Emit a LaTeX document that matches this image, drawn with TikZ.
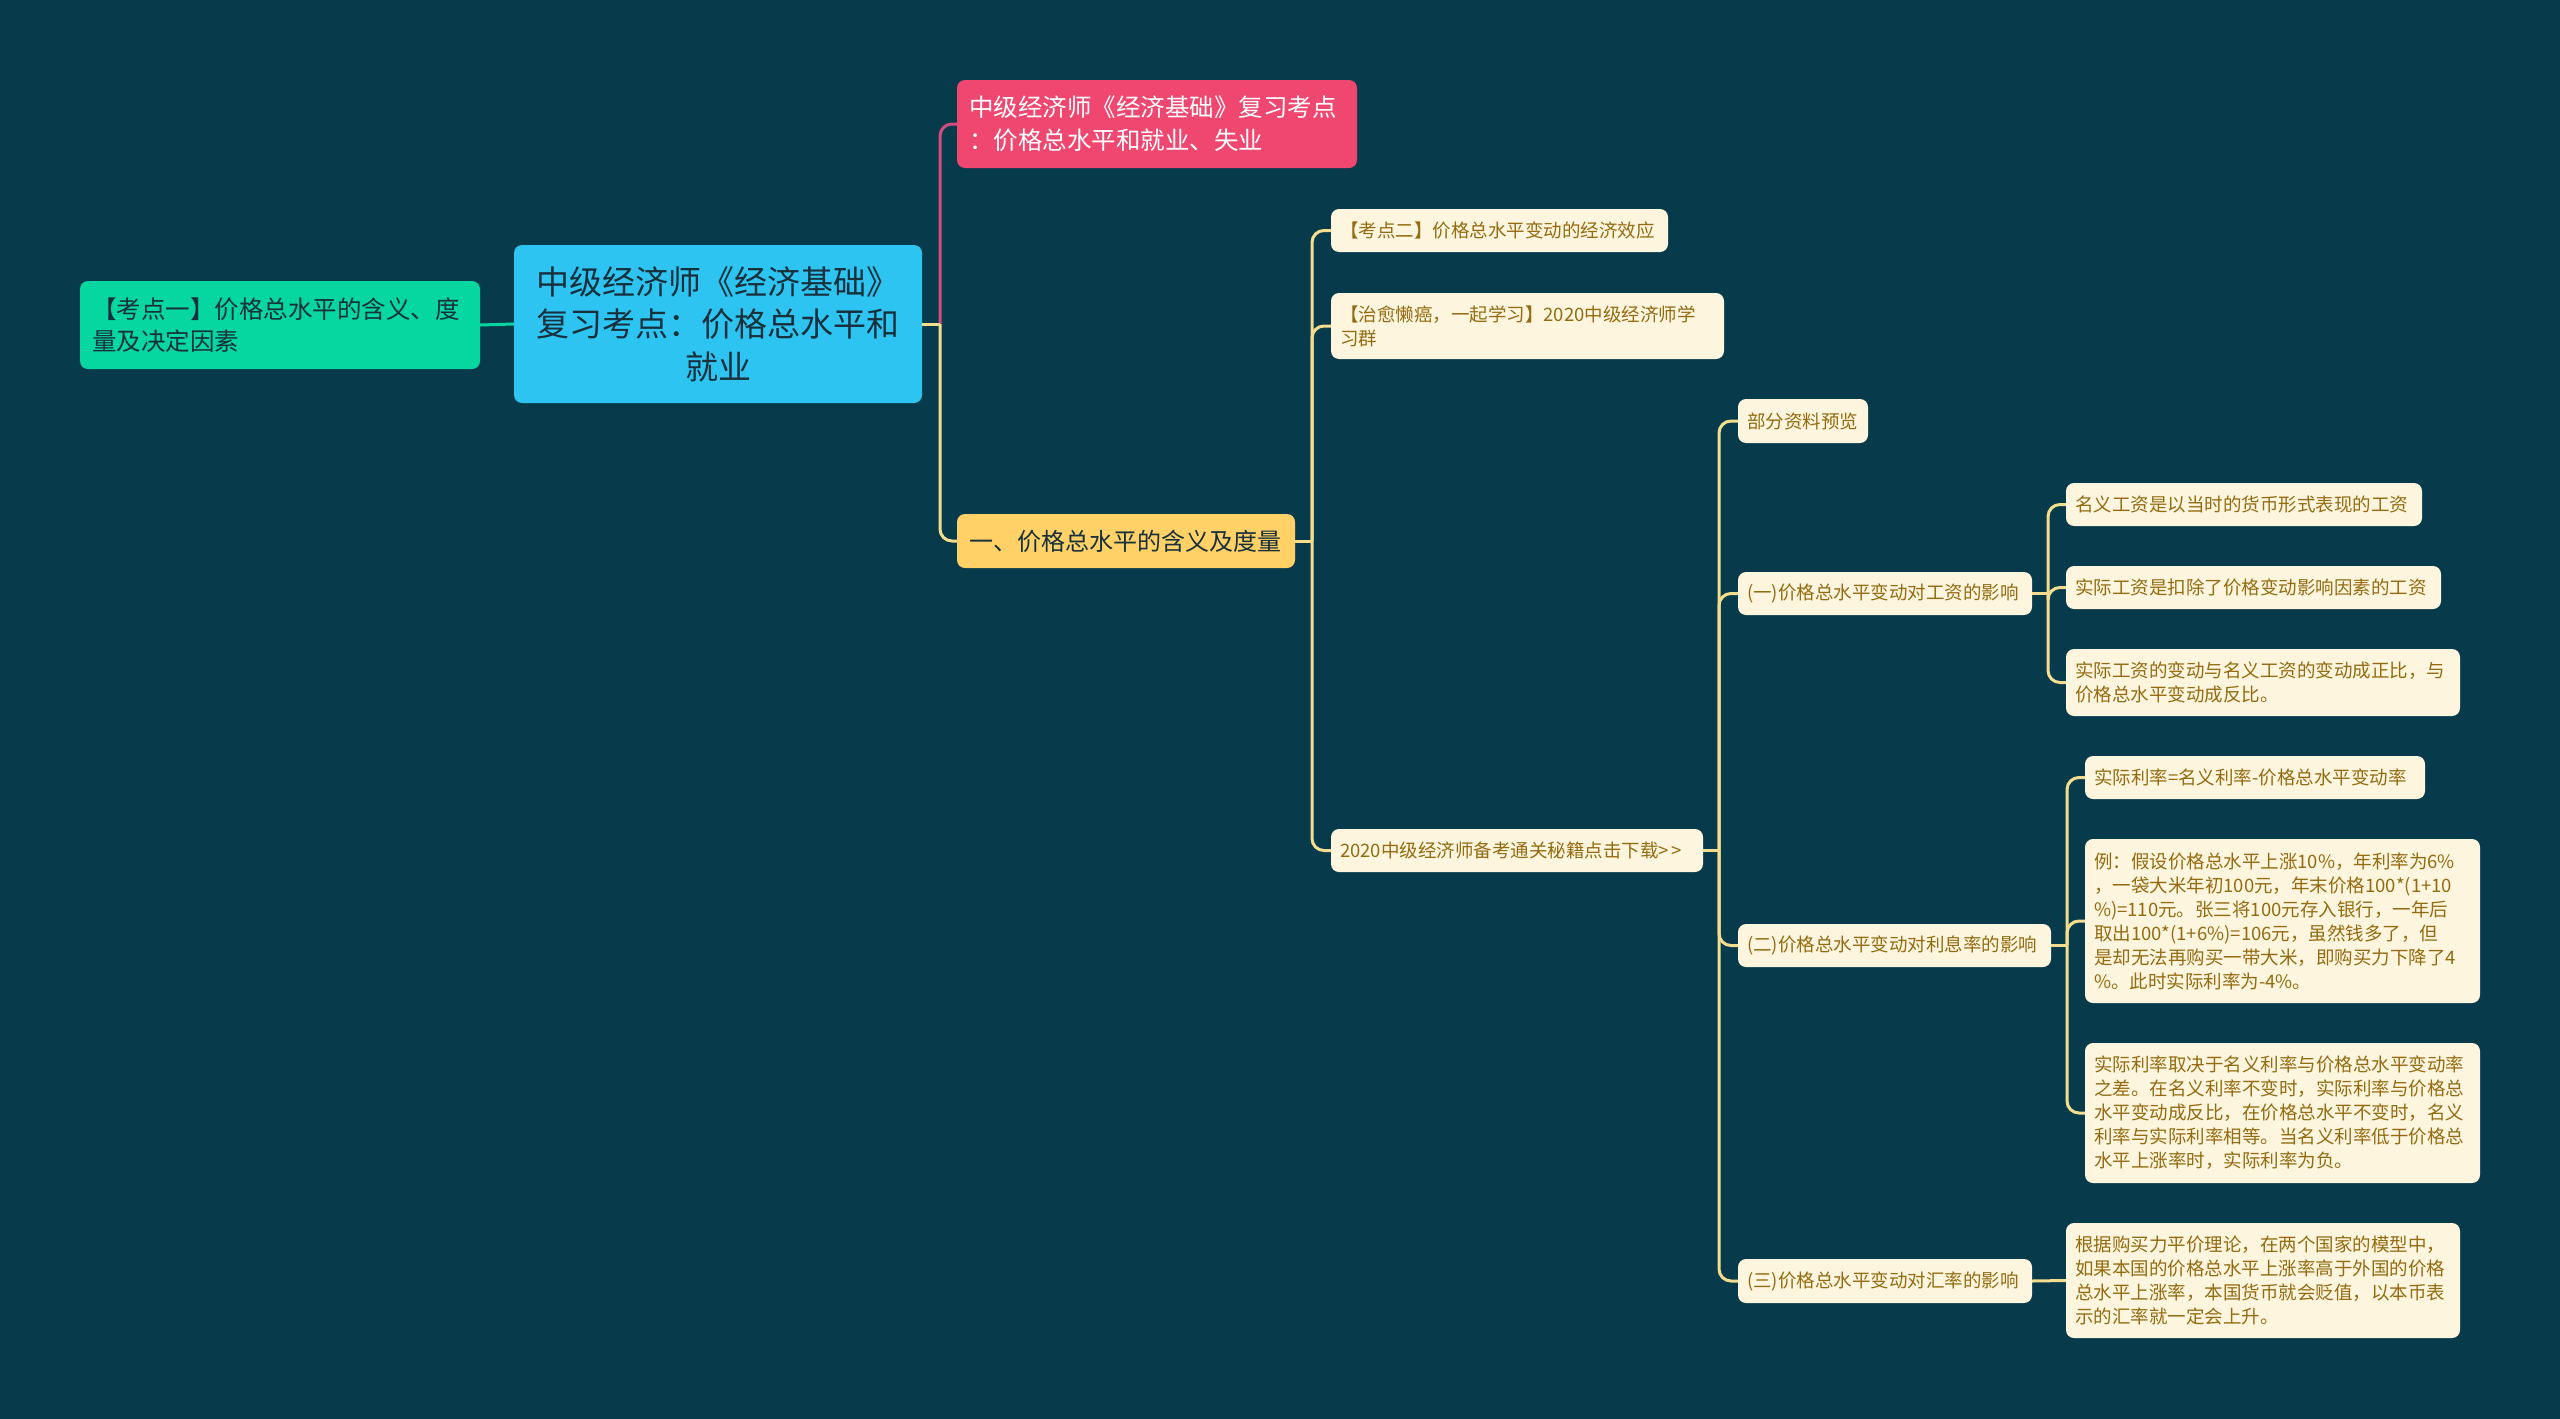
\documentclass[tikz,border=0pt]{standalone}
\usepackage{fontspec}
\setmainfont{Noto Sans CJK SC}
\definecolor{bgc}{HTML}{073A4B}
\definecolor{pinkc}{HTML}{EF476F}
\definecolor{bluec}{HTML}{2EC4F2}
\definecolor{greenc}{HTML}{06D6A0}
\definecolor{yellowc}{HTML}{FFD166}
\definecolor{creamc}{HTML}{FDF5DE}
\definecolor{browntxt}{HTML}{946B10}
\definecolor{darktxt}{HTML}{17303C}
\definecolor{pinkline}{HTML}{D24C80}
\definecolor{yline}{HTML}{F4DE8E}
\tikzset{
  box/.style={rounded corners=8pt, inner ysep=0pt, anchor=center, align=left},
  leafbox/.style={box, fill=creamc, text=browntxt, inner xsep=9pt,
     font={\fontsize{18.5}{24}\selectfont}},
  conn/.style={line width=3pt, yline, rounded corners=12pt},
}
\newcommand{\leaf}[6]{% name, cx, cy, w, h, text
  \node[leafbox, text width=#4pt-18pt, minimum height=#5pt] (#1) at (#2,#3) {#6};}
\begin{document}
\begin{tikzpicture}[x=1pt,y=-1pt]
\fill[bgc] (0,0) rectangle (2560,1419);
\useasboundingbox (0,0) rectangle (2560,1419);

% main nodes
\node[box, fill=bluec, text=darktxt, align=center, inner xsep=10pt, text width=388pt,
  minimum height=158pt, font={\fontsize{33}{42.5}\selectfont}] (root) at (718,324)
  {中级经济师《经济基础》\\复习考点：价格总水平和\\就业};
\node[box, fill=greenc, text=darktxt, inner xsep=12pt, text width=376pt,
  minimum height=88pt, font={\fontsize{24.5}{32.7}\selectfont}] (green) at (280,325)
  {【考点一】价格总水平的含义、度\\量及决定因素};
\node[box, fill=pinkc, text=white, inner xsep=12pt, text width=376pt,
  minimum height=88pt, font={\fontsize{24.5}{32.7}\selectfont}] (pink) at (1157,124)
  {中级经济师《经济基础》复习考点\\：价格总水平和就业、失业};
\node[box, fill=yellowc, text=darktxt, inner xsep=12pt, text width=314pt,
  minimum height=54pt, font={\fontsize{24}{30}\selectfont}] (yel) at (1126,541)
  {一、价格总水平的含义及度量};

% level 2
\leaf{kd}{1499.5}{230.5}{337}{43}{【考点二】价格总水平变动的经济效应}
\leaf{zy}{1527.5}{326}{393}{66}{【治愈懒癌，一起学习】2020中级经济师学\\习群}
\leaf{dl}{1517}{850.5}{372}{43}{2020中级经济师备考通关秘籍点击下载>\hspace{3pt}>}

% level 3
\leaf{bf}{1803}{421}{130}{44}{部分资料预览}
\leaf{ya}{1885}{593.5}{294}{43}{(一)价格总水平变动对工资的影响}
\leaf{yb}{1894.5}{945.5}{313}{43}{(二)价格总水平变动对利息率的影响}
\leaf{yc}{1885}{1281}{294}{44}{(三)价格总水平变动对汇率的影响}

% level 4
\leaf{wa}{2244}{504.5}{356}{43}{名义工资是以当时的货币形式表现的工资}
\leaf{wb}{2253.5}{587.5}{375}{43}{实际工资是扣除了价格变动影响因素的工资}
\leaf{wc}{2263}{682.5}{394}{67}{实际工资的变动与名义工资的变动成正比，与\\价格总水平变动成反比。}
\leaf{ra}{2255}{777.5}{340}{43}{实际利率=名义利率-价格总水平变动率}
\leaf{rb}{2282.5}{921}{395}{164}{例：假设价格总水平上涨10\%，年利率为6\%\\，一袋大米年初100元，年末价格100*(1+10\\\%)=110元。张三将100元存入银行，一年后\\取出100*(1+6\%)=106元，虽然钱多了，但\\是却无法再购买一带大米，即购买力下降了4\\\%。此时实际利率为-4\%。}
\leaf{rc}{2282.5}{1113}{395}{140}{实际利率取决于名义利率与价格总水平变动率\\之差。在名义利率不变时，实际利率与价格总\\水平变动成反比，在价格总水平不变时，名义\\利率与实际利率相等。当名义利率低于价格总\\水平上涨率时，实际利率为负。}
\leaf{ha}{2263}{1280.5}{394}{115}{根据购买力平价理论，在两个国家的模型中，\\如果本国的价格总水平上涨率高于外国的价格\\总水平上涨率，本国货币就会贬值，以本币表\\示的汇率就一定会上升。}

% trunk coordinates
\coordinate (t0) at (940,324);
\coordinate (t1) at (1312,541);
\coordinate (t2) at (1719,850.5);
\coordinate (t3) at (2048,593.5);
\coordinate (t4) at (2067,945.5);

% connectors
\draw[line width=3pt, greenc] (root.west) -- (green.east);
\draw[line width=3pt, pinkline] (root.east) -- (t0);
\draw[line width=3pt, pinkline, rounded corners=12pt] (t0) |- (pink.west);
\draw[conn] (root.east) -- (t0);
\draw[conn] (t0) |- (yel.west);

\draw[conn] (yel.east) -- (t1);
\foreach \c in {kd,zy,dl} \draw[conn] (t1) |- (\c.west);

\draw[conn] (dl.east) -- (t2);
\foreach \c in {bf,ya,yb,yc} \draw[conn] (t2) |- (\c.west);

\draw[conn] (ya.east) -- (t3);
\foreach \c in {wa,wb,wc} \draw[conn] (t3) |- (\c.west);

\draw[conn] (yb.east) -- (t4);
\foreach \c in {ra,rb,rc} \draw[conn] (t4) |- (\c.west);

\draw[conn] (yc.east) -- (ha.west);
\end{tikzpicture}
\end{document}
